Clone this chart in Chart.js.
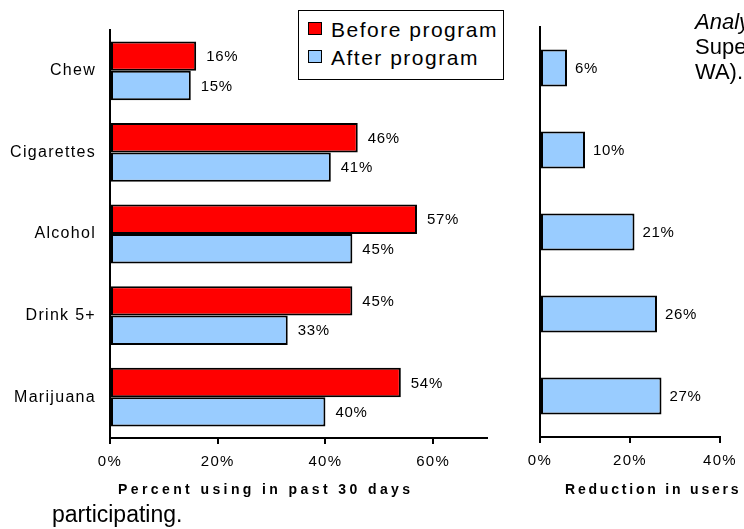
<!DOCTYPE html>
<html><head><meta charset="utf-8">
<script src="https://cdn.jsdelivr.net/npm/chart.js@4.4.1/dist/chart.umd.min.js"></script>
<style>
html,body{margin:0;padding:0;background:#fff;width:744px;height:529px;overflow:hidden;font-family:Arial,"Liberation Sans",sans-serif;}
canvas{position:absolute;left:0;top:0;}
.t{position:absolute;white-space:nowrap;color:#000;line-height:1;}
#legend{position:absolute;left:298px;top:10px;width:204px;height:68px;border:1.5px solid #000;background:#fff;}
.li{position:absolute;left:9px;font-size:21px;letter-spacing:1.5px;line-height:1;}
.sw{display:inline-block;width:12px;height:11px;border:1.5px solid #000;margin-right:9px;vertical-align:2px;}
</style></head><body>
<canvas id="c1" width="744" height="529"></canvas>
<canvas id="c2" width="744" height="529"></canvas>
<div id="legend"></div>
<div class="t" id="side1" style="left:695px;top:11px;font-size:22px;font-style:italic;"></div>
<div class="t" id="side2" style="left:695px;top:36px;font-size:22px;"></div>
<div class="t" id="side3" style="left:695px;top:61px;font-size:22px;"></div>
<div class="t" id="foot" style="left:52px;top:503px;font-size:23px;"></div>
<script>
const categories = ['Chew', 'Cigarettes', 'Alcohol', 'Drink 5+', 'Marijuana'];
const seriesNames = ['Before program', 'After program'];
const beforeProgram = [16, 46, 57, 45, 54];
const afterProgram = [15, 41, 45, 33, 40];
const reductionInUsers = [6, 10, 21, 26, 27];
const leftTickValues = [0, 20, 40, 60];
const rightTickValues = [0, 20, 40];
const axisTitles = ['Percent using in past 30 days', 'Reduction in users'];
const sideTexts = ['Analy', 'Super', 'WA).'];
const footText = 'participating.';

const RED = '#FF0000', BLUE = '#99CCFF';
const FONT = 'Arial, "Liberation Sans", sans-serif';

document.getElementById('side1').textContent = sideTexts[0];
document.getElementById('side2').textContent = sideTexts[1];
document.getElementById('side3').textContent = sideTexts[2];
document.getElementById('foot').textContent = footText;
const lg = document.getElementById('legend');
[RED, BLUE].forEach((c, i) => {
  const d = document.createElement('div');
  d.className = 'li';
  d.style.top = (i === 0 ? 8 : 36) + 'px';
  d.innerHTML = '<span class="sw" style="background:' + c + '"></span>';
  d.appendChild(document.createTextNode(seriesNames[i]));
  lg.appendChild(d);
});

const spacingPlugin = {
  id: 'spacing',
  beforeDraw(chart) { chart.ctx.letterSpacing = '1.3px'; }
};
const valueLabels = {
  id: 'valueLabels',
  afterDatasetsDraw(chart, args, opts) {
    const ctx = chart.ctx;
    ctx.save();
    ctx.font = '15px ' + FONT;
    ctx.letterSpacing = '0.7px';
    ctx.fillStyle = '#000';
    ctx.textAlign = 'left';
    ctx.textBaseline = 'middle';
    chart.data.datasets.forEach((ds, i) => {
      chart.getDatasetMeta(i).data.forEach((bar, j) => {
        ctx.fillText(ds.data[j] + '%', bar.x + opts.gap, bar.y + 1);
      });
    });
    ctx.restore();
  }
};
const axisTitle = {
  id: 'axisTitle',
  afterDraw(chart, args, opts) {
    const ctx = chart.ctx;
    ctx.save();
    ctx.font = 'bold 14px ' + FONT;
    ctx.letterSpacing = opts.spacing;
    ctx.fillStyle = '#000';
    ctx.textAlign = 'left';
    ctx.textBaseline = 'middle';
    ctx.fillText(opts.text, chart.chartArea.left + opts.dx, opts.y);
    ctx.restore();
  }
};

function xScale(max, ticks, bottom) {
  return {
    type: 'linear', position: 'bottom', min: 0, max: max,
    afterBuildTicks(s) { s.ticks = ticks.map(v => ({ value: v })); },
    afterFit(s) { s.height = 529 - bottom; },
    grid: { display: true, drawOnChartArea: false, drawTicks: true, tickLength: 6, color: '#000', lineWidth: 2 },
    border: { display: true, color: '#000', width: 2 },
    ticks: { color: '#000', font: { family: FONT, size: 15 }, padding: 9, callback: v => v + '%', maxRotation: 0 }
  };
}

new Chart(document.getElementById('c1'), {
  type: 'bar',
  data: {
    labels: categories,
    datasets: [
      { label: seriesNames[0], data: beforeProgram, backgroundColor: RED, borderColor: '#000', borderWidth: 2, borderSkipped: false },
      { label: seriesNames[1], data: afterProgram, backgroundColor: BLUE, borderColor: '#000', borderWidth: 2, borderSkipped: false }
    ]
  },
  options: {
    indexAxis: 'y', responsive: false, animation: false,
    layout: { padding: { left: 0, right: 257, top: 30, bottom: 0 } },
    datasets: { bar: { categoryPercentage: 0.72, barPercentage: 1 } },
    plugins: {
      legend: { display: false }, tooltip: { enabled: false },
      valueLabels: { gap: 10 },
      axisTitle: { text: axisTitles[0], dx: 8, y: 490, spacing: '3.4px' }
    },
    scales: {
      x: xScale(70, leftTickValues, 438),
      y: {
        type: 'category',
        afterFit(s) { s.width = 110; },
        grid: { display: false, drawTicks: false },
        border: { display: true, color: '#000', width: 2 },
        ticks: { color: '#000', font: { family: FONT, size: 16 }, padding: 14 }
      }
    }
  },
  plugins: [spacingPlugin, valueLabels, axisTitle]
});

new Chart(document.getElementById('c2'), {
  type: 'bar',
  data: {
    labels: categories,
    datasets: [
      { label: 'Reduction in users', data: reductionInUsers, backgroundColor: BLUE, borderColor: '#000', borderWidth: 2, borderSkipped: false }
    ]
  },
  options: {
    indexAxis: 'y', responsive: false, animation: false,
    layout: { padding: { left: 540, right: 22, top: 27, bottom: 0 } },
    datasets: { bar: { categoryPercentage: 0.45, barPercentage: 1 } },
    plugins: {
      legend: { display: false }, tooltip: { enabled: false },
      valueLabels: { gap: 8 },
      axisTitle: { text: axisTitles[1], dx: 25, y: 490, spacing: '2.8px' }
    },
    scales: {
      x: xScale(40, rightTickValues, 437),
      y: {
        type: 'category',
        afterFit(s) { s.width = 0; },
        grid: { display: false, drawTicks: false },
        border: { display: true, color: '#000', width: 2 },
        ticks: { display: false }
      }
    }
  },
  plugins: [spacingPlugin, valueLabels, axisTitle]
});
</script>
</body></html>
